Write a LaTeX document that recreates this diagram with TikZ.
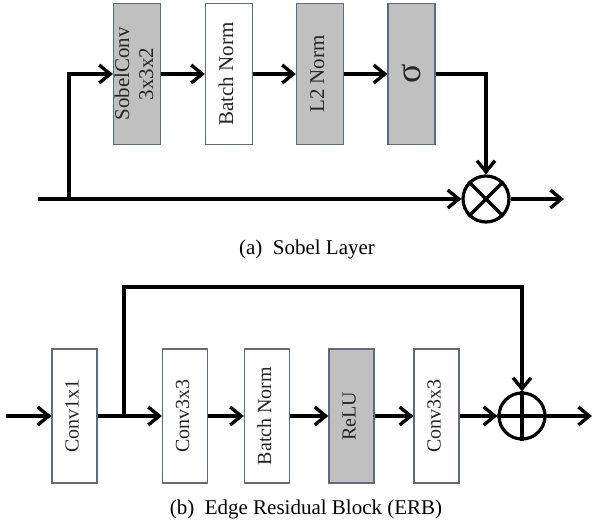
\documentclass[tikz,border=0pt]{standalone}
\usepackage{fontspec}
\setmainfont{Liberation Serif}
\usetikzlibrary{arrows.meta}
\definecolor{boxedge}{HTML}{5F6B7A}
\definecolor{boxfill}{HTML}{C0C0C0}
\tikzset{
  blk/.style={draw=boxedge, line width=1.2pt, minimum width=47pt, inner sep=0pt, text=black!85, font=\fontsize{21}{21}\selectfont},
  gblk/.style={blk, fill=boxfill},
  wblk/.style={blk, fill=white},
  sblk/.style={blk, minimum width=45pt, minimum height=134pt, font=\fontsize{20}{20}\selectfont},
  conn/.style={line width=3.8pt, -{Straight Barb[length=11pt,width=18pt,line width=3.4pt]}},
  plain/.style={line width=3.8pt},
  opnode/.style={circle, draw, line width=3.2pt, minimum size=46pt, inner sep=0pt},
  captxt/.style={font=\fontsize{21}{23}\selectfont, inner sep=0pt}
}
\newcommand{\rt}[1]{\rotatebox{90}{\begin{tabular}{@{}c@{}}#1\end{tabular}}}
\begin{document}
\begin{tikzpicture}[x=1pt,y=-1pt]
\useasboundingbox (0,0) rectangle (592,525);
% ---------- (a) Sobel Layer ----------
\node[gblk, minimum height=141pt] (sc) at (137,74) {\rt{SobelConv\\[3pt]3x3x2}};
\node[wblk, minimum height=141pt] (bn1) at (229,74) {\rt{Batch Norm}};
\node[gblk, minimum height=141pt] (l2) at (320,74) {\rt{L2 Norm}};
\node[gblk, minimum height=141pt, font=\fontsize{36}{36}\selectfont] (sg) at (411.5,74) {\rotatebox{90}{σ}};
\node[opnode] (mul) at (486,199) {};
\draw[line width=3.2pt] (mul.45) -- (mul.225) (mul.135) -- (mul.315);
\coordinate (ain) at (38,199);
\coordinate (abr) at (69,199);
\coordinate (aout) at (564,199);
\coordinate (aturn) at (486,74);
\draw[plain] (ain) -- (abr);
\draw[conn] (abr) -- (mul.west);
\draw[conn] (abr) |- (sc.west);
\draw[conn] (sc) -- (bn1);
\draw[conn] (bn1) -- (l2);
\draw[conn] (l2) -- (sg);
\draw[conn] (sg.east) -- (aturn) -- (mul.north);
\draw[conn] (mul.east) -- (aout);
\node[captxt] (capa) at (307,249) {(a)\ \ Sobel Layer};
% ---------- (b) Edge Residual Block ----------
\node[wblk, sblk] (c1) at (74.5,416) {\rt{Conv1x1}};
\node[wblk, sblk] (c2) at (185,416) {\rt{Conv3x3}};
\node[wblk, sblk] (bn2) at (267,416) {\rt{Batch Norm}};
\node[gblk, sblk] (relu) at (351.5,416) {\rt{ReLU}};
\node[wblk, sblk] (c3) at (436.5,416) {\rt{Conv3x3}};
\node[opnode] (add) at (522,416) {};
\draw[line width=3.6pt] (add.west) -- (add.east) (add.north) -- (add.south);
\coordinate (bin) at (6,416);
\coordinate (bbr) at (124,416);
\coordinate (btop) at (124,287);
\coordinate (bturn) at (522,287);
\coordinate (bout) at (592,416);
\draw[conn] (bin) -- (c1.west);
\draw[conn] (c1.east) -- (c2.west);
\draw[conn] (bbr) -- (btop) -- (bturn) -- (add.north);
\draw[conn] (c2) -- (bn2);
\draw[conn] (bn2) -- (relu);
\draw[conn] (relu) -- (c3);
\draw[conn] (c3) -- (add);
\draw[conn] (add.east) -- (bout);
\node[captxt] (capb) at (306,509) {(b)\ \ Edge Residual Block (ERB)};
\end{tikzpicture}
\end{document}
